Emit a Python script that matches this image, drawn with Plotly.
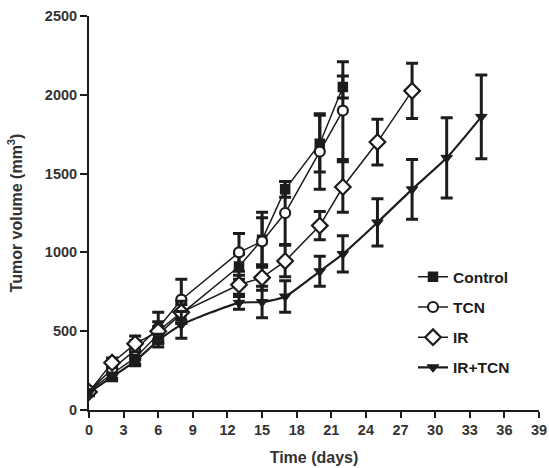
import plotly.graph_objects as go

days_control = [0, 2, 4, 6, 8, 13, 15, 17, 20, 22]
control = [120, 230, 330, 480, 610, 910, 1080, 1400, 1690, 2050]
control_err = [20, 30, 40, 50, 60, 80, 175, 50, 180, 70]

days_tcn = [0, 2, 4, 6, 8, 13, 15, 17, 20, 22]
tcn = [120, 260, 380, 520, 700, 1000, 1070, 1250, 1640, 1900]
tcn_err = [20, 30, 60, 100, 130, 120, 150, 200, 240, 310]

days_ir = [0, 2, 4, 6, 8, 13, 15, 17, 20, 22, 25, 28]
ir = [115, 300, 420, 500, 620, 795, 840, 945, 1170, 1415, 1700, 2025]
ir_err = [20, 30, 50, 60, 70, 60, 80, 100, 90, 160, 145, 175]

days_irtcn = [0, 2, 4, 6, 8, 13, 15, 17, 20, 22, 25, 28, 31, 34]
irtcn = [110, 210, 310, 440, 540, 680, 685, 720, 880, 990, 1190, 1400, 1600, 1860]
irtcn_err = [20, 25, 30, 40, 85, 40, 100, 100, 95, 115, 150, 190, 255, 265]

x_ticks = list(range(0, 40, 3))
y_ticks = [0, 500, 1000, 1500, 2000, 2500]

INK = "#1c1c1c"
TXT = "#333333"

series = [
    ("Control", days_control, control, control_err,
     dict(symbol="square", size=9, color=INK, line=dict(color=INK, width=1.5)), "linear", 1.5),
    ("TCN", days_tcn, tcn, tcn_err,
     dict(symbol="circle", size=10, color="white", line=dict(color=INK, width=2.2)), "linear", 1.5),
    ("IR", days_ir, ir, ir_err,
     dict(symbol="diamond", size=12, color="white", line=dict(color=INK, width=2.2)), "linear", 1.5),
    ("IR+TCN", days_irtcn, irtcn, irtcn_err,
     dict(symbol="triangle-down", size=10, color=INK, line=dict(color=INK, width=1)), "spline", 2.2),
]

fig = go.Figure()
for i, (name, xs, ys, es, mk, shape, lw) in enumerate(series):
    fig.add_trace(go.Scatter(
        x=xs, y=ys, name=name, mode="lines+markers",
        line=dict(color=INK, width=lw, shape=shape, smoothing=0.6),
        marker=mk,
        error_y=dict(type="data", array=es, visible=True, color=INK, thickness=3, width=6),
        legendgroup=f"g{i}",
    ))

fig.update_layout(
    width=549, height=468,
    margin=dict(l=89, r=10, t=16, b=58),
    paper_bgcolor="white", plot_bgcolor="white",
    font=dict(family="Arial, Liberation Sans, sans-serif", color=TXT, size=15),
    showlegend=True,
    legend=dict(
        x=0.72, y=0.38, xanchor="left", yanchor="top",
        bgcolor="rgba(0,0,0,0)",
        font=dict(size=15.5, color=INK, weight="bold"),
        tracegroupgap=7,
        itemwidth=30,
    ),
)
fig.update_xaxes(
    range=[0, 39], tickvals=x_ticks, ticktext=[str(v) for v in x_ticks],
    showline=True, linecolor=INK, linewidth=2, ticks="outside", ticklen=6,
    tickwidth=2, tickcolor=INK, showgrid=False, zeroline=False, automargin=False,
    tickfont=dict(size=14.5, weight="bold", color=TXT),
    title=dict(text="Time (days)", font=dict(size=16, weight="bold", color=TXT), standoff=14),
)
fig.update_yaxes(
    range=[0, 2500], tickvals=y_ticks,
    showline=True, linecolor=INK, linewidth=2, ticks="outside", ticklen=7,
    tickwidth=2, tickcolor=INK, showgrid=False, zeroline=False, automargin=False,
    tickfont=dict(size=14.5, weight="bold", color=TXT),
    title=dict(text="Tumor volume (mm<sup>3</sup>)", font=dict(size=16, weight="bold", color=TXT), standoff=18),
)
fig.write_html(
    "out.html",
    config={"displayModeBar": False},
    post_script="document.body.style.margin='0';document.body.style.overflow='hidden';",
)
